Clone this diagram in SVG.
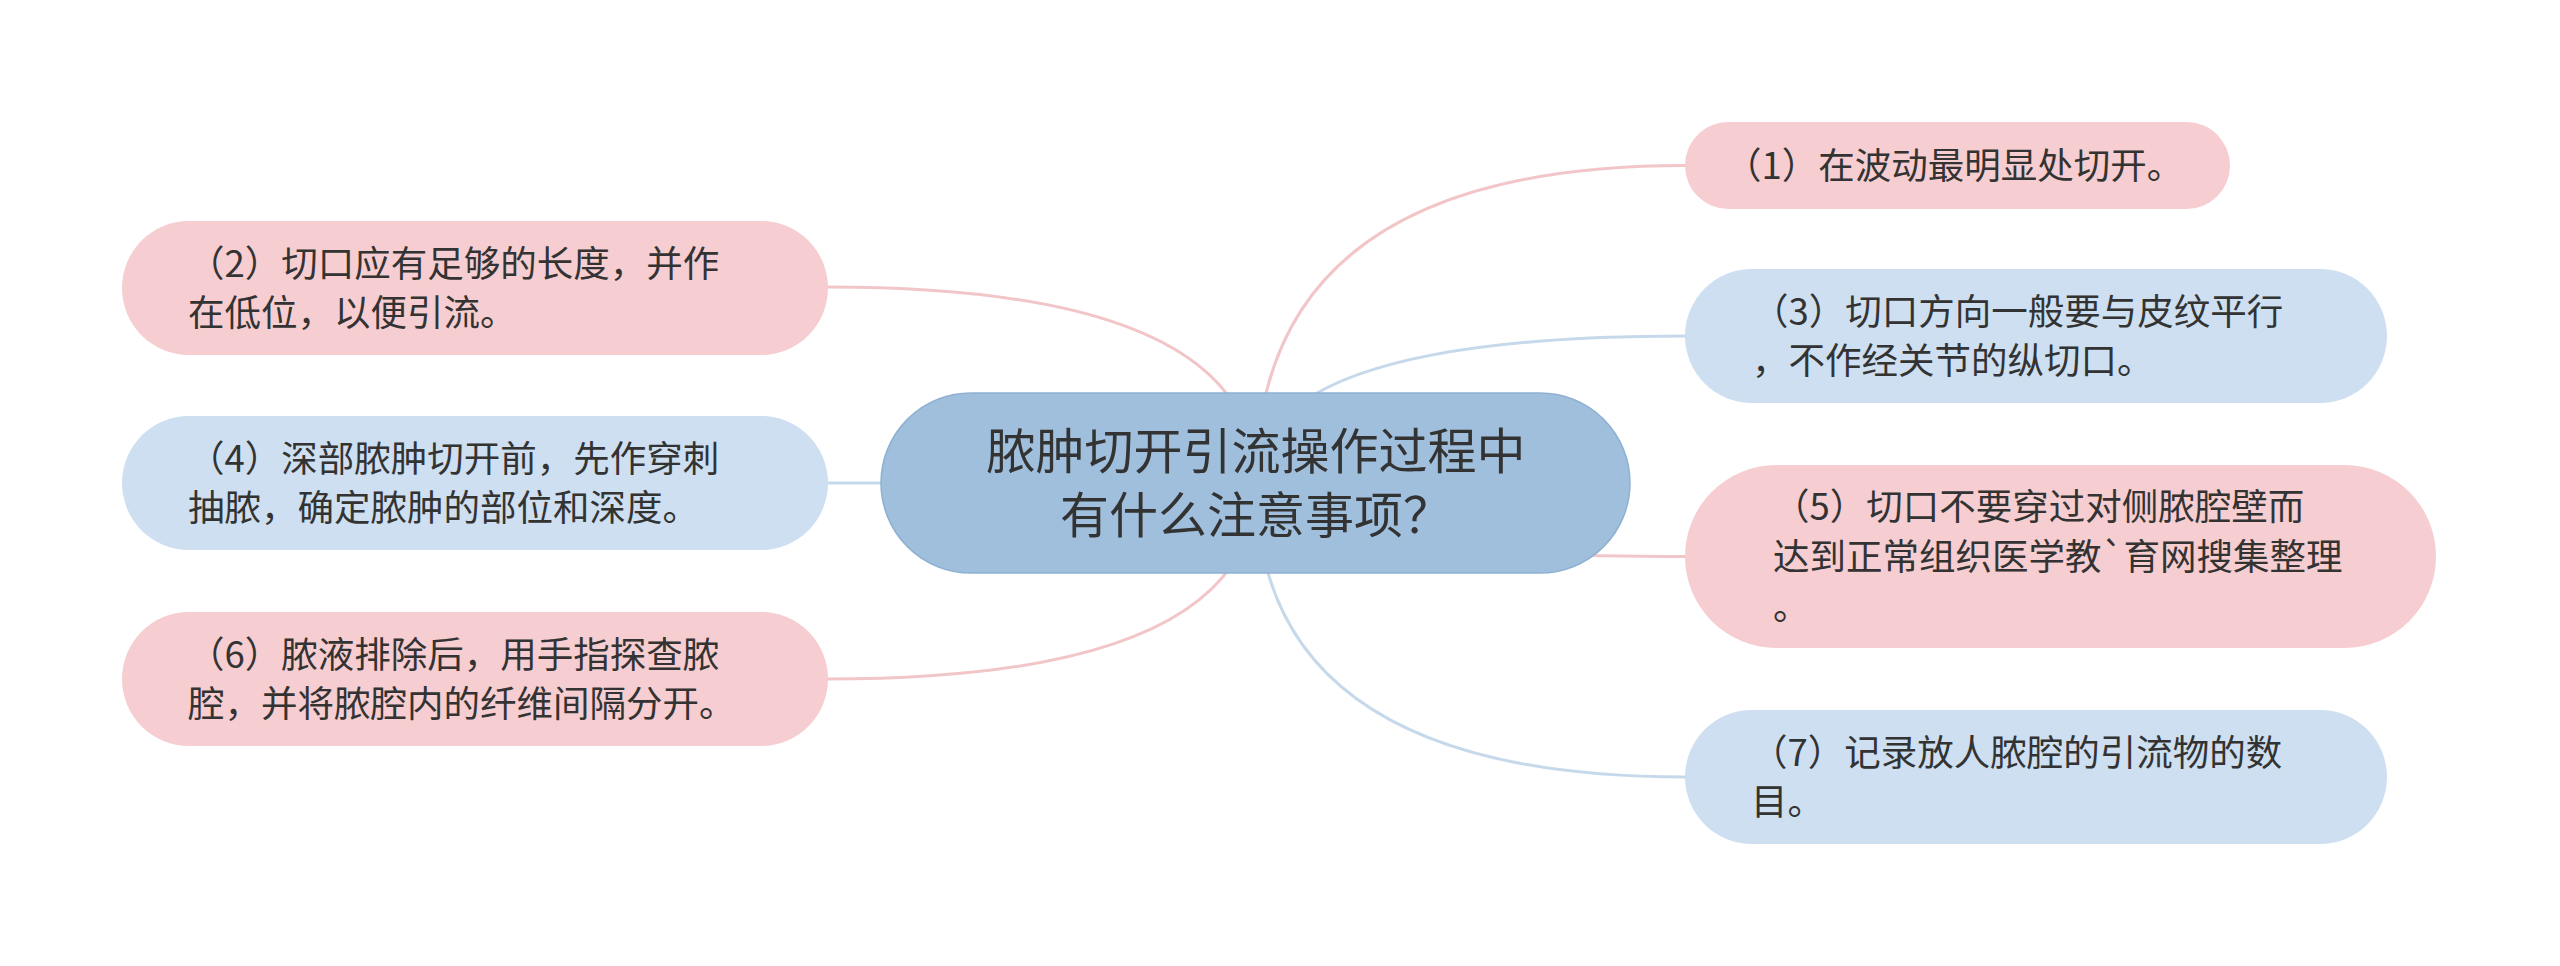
<svg xmlns="http://www.w3.org/2000/svg" width="2560" height="966" viewBox="0 0 2560 966">
<style>
.lk{fill:none;stroke-width:3;stroke-linecap:round}
.pk{stroke:#f2c6c9}
.bl{stroke:#c6d9eb}
.np{fill:#f6cdd0}
.nb{fill:#cddff0}
.t{font-family:"Noto Sans CJK SC","Noto Sans",sans-serif;font-size:36.5px;fill:#333333}
.tc{font-family:"Noto Sans CJK SC","Noto Sans",sans-serif;font-size:49px;fill:#333333;text-anchor:middle}
</style>
<rect width="2560" height="966" fill="#ffffff"/>
<g id="connectors">
<path class="lk pk" d="M1256,483 Q1256,165.5 1685,165.5"/>
<path class="lk pk" d="M1256,483 Q1256,287 828,287"/>
<path class="lk bl" d="M1256,483 Q1256,336 1685,336"/>
<path class="lk bl" d="M1256,483 L828,483"/>
<path class="lk pk" d="M1256,483 Q1256,556.5 1685,556.5"/>
<path class="lk pk" d="M1256,483 Q1256,679 828,679"/>
<path class="lk bl" d="M1256,483 Q1256,777 1685,777"/>
</g>
<g id="center">
<rect x="881" y="393" width="749" height="180" rx="90" fill="#9fbfdc" stroke="#8fb1d1" stroke-width="1.5"/>
<text class="tc"><tspan x="1256" y="469">脓肿切开引流操作过程中</tspan><tspan x="1256" y="533">有什么注意事项？</tspan></text>
</g>
<g id="n1">
<rect x="1685" y="122" width="545" height="87" rx="43.5" class="np"/>
<text class="t"><tspan x="1725" y="179">（1）在波动最明显处切开。</tspan></text>
</g>
<g id="n2">
<rect x="122" y="221" width="706" height="134" rx="67" class="np"/>
<text class="t"><tspan x="188" y="277">（2）切口应有足够的长度，并作</tspan><tspan x="188" y="326">在低位，以便引流。</tspan></text>
</g>
<g id="n3">
<rect x="1685" y="269" width="702" height="134" rx="67" class="nb"/>
<text class="t"><tspan x="1752" y="325">（3）切口方向一般要与皮纹平行</tspan><tspan x="1752" y="374">，不作经关节的纵切口。</tspan></text>
</g>
<g id="n4">
<rect x="122" y="416" width="706" height="134" rx="67" class="nb"/>
<text class="t"><tspan x="188" y="472">（4）深部脓肿切开前，先作穿刺</tspan><tspan x="188" y="521">抽脓，确定脓肿的部位和深度。</tspan></text>
</g>
<g id="n5">
<rect x="1685" y="465" width="751" height="183" rx="91.5" class="np"/>
<text class="t"><tspan x="1773" y="520">（5）切口不要穿过对侧脓腔壁而</tspan><tspan x="1773" y="570">达到正常组织医学教`育网搜集整理</tspan><tspan x="1773" y="620">。</tspan></text>
</g>
<g id="n6">
<rect x="122" y="612" width="706" height="134" rx="67" class="np"/>
<text class="t"><tspan x="188" y="668">（6）脓液排除后，用手指探查脓</tspan><tspan x="188" y="717">腔，并将脓腔内的纤维间隔分开。</tspan></text>
</g>
<g id="n7">
<rect x="1685" y="710" width="702" height="134" rx="67" class="nb"/>
<text class="t"><tspan x="1751" y="766">（7）记录放人脓腔的引流物的数</tspan><tspan x="1751" y="815">目。</tspan></text>
</g>
</svg>
